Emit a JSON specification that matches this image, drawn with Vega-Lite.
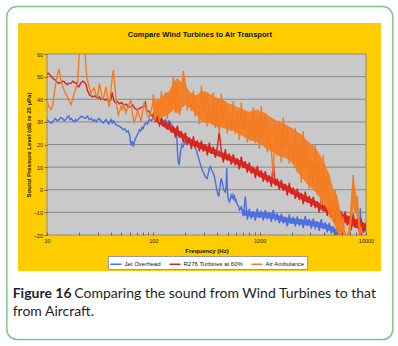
{
"$schema":"https://vega.github.io/schema/vega-lite/v6.json",
"autosize":{"type":"none"},
"width":319,"height":181,
"padding":{"left":47,"top":54,"right":32,"bottom":111},
"background":"#ffffff",
"title":{"text":"Compare Wind Turbines to Air Transport","frame":"bounds","anchor":"middle","offset":-39.25,"baseline":"alphabetic","font":"Liberation Sans","fontSize":7.5,"fontWeight":"bold","color":"#111111"},
"config":{"view":{"stroke":null},
"axis":{"labelFont":"Liberation Sans","labelFontSize":5.5,"labelColor":"#222222","titleFont":"Liberation Sans","titleFontSize":6,"titleFontWeight":"bold","titleColor":"#111111","tickColor":"#666666","domain":false,"grid":false,"zindex":1,"labelFlush":false,"labelOverlap":false}},
"datasets":{
"jet":[{"f":10,"v":31},{"f":10.5,"v":30},{"f":11,"v":29.5},{"f":11.5,"v":30.5},{"f":12,"v":31.5},{"f":12.5,"v":30.5},{"f":13,"v":31},{"f":13.5,"v":32},{"f":14,"v":31.5},{"f":14.5,"v":30.5},{"f":15,"v":31},{"f":15.5,"v":32},{"f":16,"v":32.5},{"f":16.5,"v":31},{"f":17,"v":31.5},{"f":17.5,"v":30.5},{"f":18,"v":30},{"f":18.5,"v":31},{"f":19,"v":30.5},{"f":20,"v":31.5},{"f":21,"v":32.5},{"f":22,"v":32},{"f":23,"v":31.5},{"f":24,"v":32.5},{"f":25,"v":31},{"f":26,"v":31.5},{"f":27,"v":30.5},{"f":28,"v":31},{"f":29,"v":30},{"f":30,"v":31},{"f":31,"v":31.5},{"f":32,"v":30.5},{"f":33,"v":30},{"f":34,"v":29.5},{"f":35,"v":30.5},{"f":36,"v":31},{"f":37,"v":30},{"f":38,"v":29},{"f":39,"v":30},{"f":40,"v":31},{"f":41,"v":29.5},{"f":42,"v":30.5},{"f":44,"v":29},{"f":46,"v":28.5},{"f":48,"v":28},{"f":50,"v":27.5},{"f":52,"v":26.5},{"f":54,"v":27},{"f":56,"v":25.5},{"f":58,"v":26},{"f":60,"v":24},{"f":61,"v":21},{"f":62,"v":19.5},{"f":63,"v":21.5},{"f":64,"v":20.5},{"f":65,"v":19},{"f":66,"v":21},{"f":68,"v":22.5},{"f":70,"v":24},{"f":72,"v":25},{"f":74,"v":26.5},{"f":76,"v":26},{"f":78,"v":27.5},{"f":80,"v":27},{"f":82,"v":28.5},{"f":85,"v":29.5},{"f":88,"v":29},{"f":90,"v":30.5},{"f":93,"v":31},{"f":96,"v":30.5},{"f":100,"v":32},
{"f":105,"v":31},{"f":110,"v":32.5},{"f":115,"v":30.5},{"f":120,"v":31.5},{"f":125,"v":30},{"f":130,"v":31},{"f":136,"v":29.5},{"f":141,"v":30.5},{"f":147,"v":29},{"f":152,"v":28},{"f":157,"v":27},{"f":162,"v":26.5},{"f":166,"v":24},{"f":169,"v":16},{"f":172,"v":12},{"f":175,"v":11},{"f":178,"v":14.5},{"f":182,"v":18},{"f":186,"v":20},{"f":190,"v":19},{"f":195,"v":20.5},{"f":200,"v":21.5},{"f":207,"v":20},{"f":214,"v":21.5},{"f":222,"v":20.5},{"f":230,"v":21},{"f":238,"v":20},{"f":246,"v":19},{"f":254,"v":17.5},{"f":262,"v":15},{"f":270,"v":13},{"f":280,"v":10.5},{"f":290,"v":8.5},{"f":300,"v":7},{"f":310,"v":5.5},{"f":320,"v":5},{"f":328,"v":7},{"f":336,"v":9.5},{"f":345,"v":10.2},{"f":355,"v":8.5},{"f":365,"v":7.4},{"f":375,"v":6},{"f":385,"v":3},{"f":395,"v":0},{"f":405,"v":-2},{"f":412,"v":-3},{"f":420,"v":0},{"f":428,"v":3},{"f":436,"v":5},{"f":444,"v":3.5},{"f":452,"v":1.5},{"f":460,"v":0},{"f":468,"v":-0.5},{"f":476,"v":-1},{"f":484,"v":2},{"f":490,"v":9.6},{"f":496,"v":1},{"f":502,"v":-3},{"f":510,"v":-4.5},{"f":520,"v":-5.3},{"f":530,"v":-4},{"f":540,"v":-2.5},{"f":550,"v":-3.5},{"f":560,"v":-2.3},{"f":570,"v":-4},{"f":580,"v":-3},{"f":590,"v":-5},{"f":600,"v":-4.5},{"f":615,"v":-6.5},{"f":630,"v":-7},{"f":645,"v":-9},{"f":660,"v":-8.5},
{"f":672,"v":-7.3},{"f":702,"v":-11.7},{"f":733,"v":-3},{"f":765,"v":-13.2},{"f":799,"v":-8.5},{"f":834,"v":-12.7},{"f":871,"v":-9.5},{"f":910,"v":-13.6},{"f":950,"v":-8.3},{"f":992,"v":-12.4},{"f":1036,"v":-9.2},{"f":1081,"v":-13.5},{"f":1129,"v":-9},{"f":1179,"v":-13.1},{"f":1232,"v":-10},{"f":1286,"v":-14.2},{"f":1343,"v":-8.9},{"f":1402,"v":-13.2},{"f":1464,"v":-10.4},{"f":1529,"v":-14.8},{"f":1597,"v":-10.7},{"f":1667,"v":-14.9},{"f":1741,"v":-12},{"f":1818,"v":-16.2},{"f":1899,"v":-10.9},{"f":1983,"v":-15.1},{"f":2070,"v":-12},{"f":2162,"v":-16.2},{"f":2258,"v":-11.8},{"f":2357,"v":-15.9},{"f":2462,"v":-12.9},{"f":2570,"v":-17},{"f":2684,"v":-11.7},{"f":2803,"v":-16},{"f":2927,"v":-12.9},{"f":3057,"v":-17.2},{"f":3192,"v":-12.8},{"f":3333,"v":-16.9},{"f":3480,"v":-14},{"f":3634,"v":-18.2},{"f":3795,"v":-13},{"f":3963,"v":-17.4},{"f":4138,"v":-14.4},{"f":4321,"v":-18.8},{"f":4512,"v":-14.6},{"f":4712,"v":-18.9},{"f":4920,"v":-16.2},{"f":5138,"v":-20.9},{"f":5365,"v":-16.8},{"f":5603,"v":-22.4},{"f":5851,"v":-22},{"f":6109,"v":-25},{"f":7000,"v":-26},{"f":8700,"v":-25},{"f":8850,"v":-8},{"f":9000,"v":-24},{"f":10000,"v":-27}],
"jetBand":[{"f":680,"lo":-11,"hi":-8.6},{"f":799,"lo":-11.9,"hi":-9.5},{"f":950,"lo":-12.2,"hi":-9.8},{"f":1129,"lo":-12.4,"hi":-10},{"f":1343,"lo":-12.8,"hi":-10.4},{"f":1597,"lo":-14.1,"hi":-11.7},{"f":1899,"lo":-14.8,"hi":-12.4},{"f":2258,"lo":-15.2,"hi":-12.8},{"f":2684,"lo":-15.6,"hi":-13.2},{"f":3192,"lo":-16.2,"hi":-13.8},{"f":3795,"lo":-16.9,"hi":-14.5},{"f":4512,"lo":-18,"hi":-15.6},{"f":5138,"lo":-19.4,"hi":-17},{"f":5500,"lo":-21,"hi":-19}],
"turb":[{"f":10,"v":51},{"f":10.3,"v":51.5},{"f":10.6,"v":51},{"f":11,"v":50},{"f":11.5,"v":49},{"f":12,"v":48.5},{"f":12.5,"v":47.5},{"f":13,"v":47},{"f":13.5,"v":47.5},{"f":14,"v":48},{"f":14.5,"v":47.8},{"f":15,"v":47},{"f":15.5,"v":46.5},{"f":16,"v":47},{"f":16.8,"v":47},{"f":17.5,"v":48},{"f":18,"v":47.5},{"f":18.7,"v":47.3},{"f":19.3,"v":46},{"f":20,"v":45.5},{"f":20.7,"v":47},{"f":21.6,"v":48},{"f":22.5,"v":47.5},{"f":23.3,"v":46.5},{"f":24,"v":44},{"f":25,"v":42},{"f":26,"v":41.5},{"f":27,"v":41},{"f":28,"v":41.5},{"f":29,"v":41},{"f":30,"v":40.5},{"f":31,"v":41},{"f":32,"v":40},{"f":33.5,"v":40.5},{"f":34.6,"v":39.7},{"f":36,"v":40},{"f":37,"v":39.5},{"f":38.5,"v":39},{"f":40,"v":40},{"f":41,"v":43},{"f":42,"v":40.5},{"f":43,"v":39},{"f":44.5,"v":38.3},{"f":46,"v":39},{"f":48,"v":38},{"f":50,"v":38.5},{"f":53,"v":37.5},{"f":56,"v":37.8},{"f":58,"v":36.5},{"f":61.5,"v":36.7},{"f":64,"v":37.5},{"f":67,"v":36},{"f":70.6,"v":35.2},{"f":74,"v":36},{"f":78,"v":36.5},{"f":82,"v":36.7},{"f":84,"v":39},{"f":86,"v":35.5},{"f":88,"v":35},{"f":91.5,"v":34.5},{"f":95,"v":33},{"f":98,"v":32.5},
{"f":100,"v":33.5},{"f":104,"v":30.3},{"f":109,"v":31.9},{"f":114,"v":28.5},{"f":119,"v":31.5},{"f":124,"v":28.3},{"f":130,"v":29.8},{"f":135,"v":26.6},{"f":141,"v":30.1},{"f":148,"v":25.1},{"f":154,"v":28},{"f":161,"v":23},{"f":168,"v":28.3},{"f":176,"v":23.1},{"f":183,"v":26},{"f":191,"v":20.9},{"f":200,"v":25.2},{"f":209,"v":20.1},{"f":218,"v":23},{"f":228,"v":18},{"f":238,"v":23.6},{"f":248,"v":18.7},{"f":259,"v":21.8},{"f":271,"v":17},{"f":283,"v":21.7},{"f":295,"v":16.9},{"f":308,"v":20.1},{"f":322,"v":15.2},{"f":336,"v":20.8},{"f":351,"v":15.9},{"f":366,"v":19},{"f":383,"v":14.2},{"f":400,"v":18.8},{"f":417,"v":25.5},{"f":436,"v":17},{"f":455,"v":12.1},{"f":475,"v":17.8},{"f":496,"v":12.9},{"f":518,"v":16},{"f":541,"v":11.1},{"f":565,"v":15.7},{"f":590,"v":10.8},{"f":616,"v":13.9},{"f":643,"v":9},{"f":672,"v":14.6},{"f":702,"v":9.6},{"f":733,"v":12.6},{"f":765,"v":7.6},{"f":799,"v":12.1},{"f":834,"v":7.1},{"f":871,"v":10.1},{"f":910,"v":5.1},{"f":950,"v":10.6},{"f":992,"v":5.6},{"f":1036,"v":8.6},{"f":1081,"v":3.6},{"f":1129,"v":8.2},{"f":1179,"v":3.3},{"f":1232,"v":6.3},{"f":1286,"v":1.4},{"f":1343,"v":12},{"f":1402,"v":1.9},{"f":1464,"v":4.9},{"f":1529,"v":-0.1},{"f":1597,"v":4.4},{"f":1667,"v":-0.5},{"f":1741,"v":2.6},{"f":1818,"v":-2.5},{"f":1899,"v":3},{"f":1983,"v":-2},{"f":2070,"v":1},{"f":2162,"v":-4},{"f":2258,"v":0.5},{"f":2357,"v":-4.5},{"f":2462,"v":-1.5},{"f":2570,"v":-6.4},{"f":2684,"v":-0.8},{"f":2803,"v":-5.7},{"f":2927,"v":-2.7},{"f":3057,"v":-7.6},{"f":3192,"v":-3.1},{"f":3333,"v":-8.1},{"f":3480,"v":-5.1},{"f":3634,"v":-10.1},{"f":3795,"v":-4.6},{"f":3963,"v":-9.5},{"f":4138,"v":-6.5},{"f":4321,"v":-11.5},{"f":4512,"v":-6.2},{"f":4712,"v":-12.5},{"f":4920,"v":-8.4},{"f":5138,"v":-14.7},{"f":5365,"v":-7.3},{"f":5603,"v":-13.6},{"f":5851,"v":-9.4},{"f":6109,"v":-15.6},{"f":6380,"v":-9.6},{"f":6662,"v":-15.8},{"f":6957,"v":-11.6},{"f":7264,"v":-17.9},{"f":7586,"v":-10.5},{"f":7921,"v":-16.8},{"f":8272,"v":-12.6},{"f":8637,"v":-18.8},{"f":9019,"v":-12.8},{"f":9418,"v":-19},{"f":9835,"v":-14.8},{"f":10000,"v":-18}],
"turbBand":[{"f":104,"lo":30.2,"hi":32.8},{"f":124,"lo":27.9,"hi":30.5},{"f":154,"lo":25.2,"hi":27.8},{"f":191,"lo":22.1,"hi":24.7},{"f":238,"lo":19.3,"hi":21.9},{"f":295,"lo":17.6,"hi":20.2},{"f":366,"lo":15.7,"hi":18.3},{"f":455,"lo":13.8,"hi":16.4},{"f":565,"lo":11.9,"hi":14.5},{"f":702,"lo":9.8,"hi":12.4},{"f":871,"lo":7.3,"hi":9.9},{"f":1081,"lo":4.8,"hi":7.4},{"f":1343,"lo":2.6,"hi":5.2},{"f":1667,"lo":0.2,"hi":2.8},{"f":2070,"lo":-2.3,"hi":0.3},{"f":2570,"lo":-4.7,"hi":-2.1},{"f":3192,"lo":-6.9,"hi":-4.3},{"f":3963,"lo":-9.3,"hi":-6.7},{"f":4920,"lo":-11.9,"hi":-8.9},{"f":6109,"lo":-14.2,"hi":-10.6},{"f":7586,"lo":-16.2,"hi":-12.6},{"f":9418,"lo":-18.4,"hi":-14.4},{"f":10000,"lo":-18.5,"hi":-15.5}],
"amb":[{"f":10,"v":38.5},{"f":10.4,"v":37},{"f":10.9,"v":35.5},{"f":11.3,"v":37},{"f":11.7,"v":42.5},{"f":12.2,"v":48},{"f":12.6,"v":51.5},{"f":13,"v":53},{"f":13.5,"v":48.5},{"f":14,"v":46},{"f":14.5,"v":44},{"f":15,"v":42.5},{"f":15.6,"v":41},{"f":16.2,"v":39},{"f":16.8,"v":37.5},{"f":17.4,"v":40},{"f":18,"v":42.5},{"f":18.7,"v":45},{"f":19.4,"v":47},{"f":20,"v":58},{"f":20.5,"v":66},{"f":21.2,"v":72},{"f":21.8,"v":68},{"f":22.4,"v":64},{"f":22.9,"v":60},{"f":23.3,"v":53},{"f":24,"v":48.5},{"f":25,"v":45},{"f":25.9,"v":42.5},{"f":26.8,"v":44},{"f":27.8,"v":45},{"f":28.8,"v":42},{"f":29.9,"v":41},{"f":31,"v":47},{"f":32,"v":44},{"f":33.3,"v":39.5},{"f":34.5,"v":42},{"f":35.9,"v":45.5},{"f":37,"v":41},{"f":38.5,"v":36.5},{"f":39.5,"v":42},{"f":40.5,"v":47},{"f":41.4,"v":51},{"f":42.2,"v":53},{"f":43.6,"v":45},{"f":45,"v":38},{"f":46.8,"v":33},{"f":48.5,"v":35},{"f":50,"v":37},{"f":51.5,"v":35.5},{"f":53,"v":38},{"f":55,"v":34},{"f":57.4,"v":36},{"f":59.5,"v":38},{"f":61.6,"v":40},{"f":63.5,"v":34},{"f":66,"v":29.5},{"f":68.5,"v":32},{"f":71,"v":35},{"f":73.5,"v":33},{"f":76.6,"v":30},{"f":79,"v":34.5},{"f":82,"v":38.5},{"f":85,"v":36},{"f":88,"v":33},{"f":91,"v":31.5},{"f":95,"v":35},{"f":98,"v":37},
{"f":100,"v":42.3},{"f":104,"v":30.4},{"f":109,"v":39},{"f":114,"v":30},{"f":119,"v":43.5},{"f":124,"v":33.9},{"f":130,"v":42.8},{"f":135,"v":31.3},{"f":141,"v":40},{"f":148,"v":34.4},{"f":154,"v":50.1},{"f":161,"v":33.9},{"f":168,"v":46.8},{"f":176,"v":33},{"f":183,"v":36.5},{"f":191,"v":52.5},{"f":200,"v":46.9},{"f":209,"v":35.1},{"f":218,"v":41.2},{"f":228,"v":34.8},{"f":238,"v":43.9},{"f":248,"v":32.3},{"f":259,"v":40.9},{"f":271,"v":29},{"f":283,"v":46},{"f":295,"v":33},{"f":308,"v":43.2},{"f":322,"v":27.9},{"f":336,"v":37.8},{"f":351,"v":29.2},{"f":366,"v":43.1},{"f":383,"v":27.3},{"f":400,"v":38.5},{"f":417,"v":25},{"f":436,"v":42.5},{"f":455,"v":30.1},{"f":475,"v":39},{"f":496,"v":24.9},{"f":518,"v":33.9},{"f":541,"v":26},{"f":565,"v":39.2},{"f":590,"v":24.7},{"f":616,"v":34.9},{"f":643,"v":22},{"f":672,"v":38.5},{"f":702,"v":26.1},{"f":733,"v":35},{"f":765,"v":20.9},{"f":799,"v":30},{"f":834,"v":21.7},{"f":871,"v":36.6},{"f":910,"v":20.5},{"f":950,"v":33.1},{"f":992,"v":18},{"f":1036,"v":37},{"f":1081,"v":23},{"f":1129,"v":33.4},{"f":1179,"v":16.5},{"f":1232,"v":27},{"f":1286,"v":17.5},{"f":1343,"v":6.5},{"f":1402,"v":29.5},{"f":1464,"v":15},{"f":1529,"v":30.5},{"f":1597,"v":12},{"f":1667,"v":32},{"f":1741,"v":17.5},{"f":1818,"v":28},{"f":1899,"v":11.5},{"f":1983,"v":22},{"f":2070,"v":11.7},{"f":2162,"v":27.4},{"f":2258,"v":7.8},{"f":2357,"v":21.6},{"f":2462,"v":3},{"f":2570,"v":26},{"f":2684,"v":8.2},{"f":2803,"v":20.4},{"f":2927,"v":0.2},{"f":3057,"v":13.2},{"f":3192,"v":1.2},{"f":3333,"v":19.8},{"f":3480,"v":-2.1},{"f":3634,"v":12.5},{"f":3795,"v":-7},{"f":3963,"v":15.5},{"f":4138,"v":-3},{"f":4321,"v":8.1},{"f":4512,"v":-11.9},{"f":4712,"v":-1.8},{"f":4920,"v":-14},{"f":5138,"v":0},{"f":5365,"v":-18.9},{"f":5603,"v":-8.8},{"f":5851,"v":-25},{"f":6109,"v":-12},{"f":6380,"v":-23.7},{"f":6662,"v":-19.5},{"f":6957,"v":-24.4},{"f":7264,"v":-7.2},{"f":7586,"v":6.5},{"f":7921,"v":-9.8},{"f":8272,"v":-2.7},{"f":8637,"v":-18.9},{"f":9019,"v":-17.3},{"f":9418,"v":-27},{"f":9835,"v":-24},{"f":10000,"v":-26}],
"ambBand":[{"f":100,"lo":30.5,"hi":40.5},{"f":109,"lo":32.5,"hi":39.5},{"f":119,"lo":32,"hi":41},{"f":130,"lo":32.5,"hi":42.5},{"f":141,"lo":33.5,"hi":43.5},{"f":154,"lo":35.5,"hi":47.5},{"f":168,"lo":33.5,"hi":49.5},{"f":183,"lo":36.5,"hi":47.5},{"f":191,"lo":36.5,"hi":50},{"f":200,"lo":37.5,"hi":46.5},{"f":218,"lo":36.5,"hi":43.5},{"f":238,"lo":34.5,"hi":42},{"f":259,"lo":32.5,"hi":42},{"f":283,"lo":30.5,"hi":43.5},{"f":308,"lo":29.5,"hi":43.5},{"f":336,"lo":29.5,"hi":42.5},{"f":366,"lo":28.5,"hi":41.5},{"f":400,"lo":27.5,"hi":40.5},{"f":436,"lo":27.5,"hi":40},{"f":475,"lo":27,"hi":39},{"f":518,"lo":26.5,"hi":38},{"f":565,"lo":26,"hi":37.5},{"f":616,"lo":25,"hi":36.5},{"f":672,"lo":24,"hi":36},{"f":733,"lo":23,"hi":35},{"f":799,"lo":22,"hi":34.5},{"f":871,"lo":21.5,"hi":35},{"f":950,"lo":21,"hi":35.5},{"f":1036,"lo":20,"hi":34.5},{"f":1129,"lo":18.5,"hi":34},{"f":1232,"lo":17.5,"hi":32.5},{"f":1343,"lo":16.5,"hi":31.5},{"f":1464,"lo":15.5,"hi":30.5},{"f":1597,"lo":14.5,"hi":29.5},{"f":1741,"lo":14,"hi":29},{"f":1899,"lo":13,"hi":28},{"f":2070,"lo":11,"hi":27},{"f":2258,"lo":8,"hi":25.5},{"f":2462,"lo":5.5,"hi":24.5},{"f":2684,"lo":3.5,"hi":22.5},{"f":2927,"lo":1.5,"hi":21},{"f":3192,"lo":0,"hi":19.5},{"f":3480,"lo":-2,"hi":17.5},{"f":3795,"lo":-4.5,"hi":14.5},{"f":4138,"lo":-7.5,"hi":11},{"f":4512,"lo":-10.5,"hi":7},{"f":4920,"lo":-14.5,"hi":0.5},{"f":5365,"lo":-18.5,"hi":-2.5},{"f":5851,"lo":-22.5,"hi":-10.5},{"f":6380,"lo":-24.5,"hi":-18.5},{"f":6662,"lo":-25.5,"hi":-20.5},{"f":6957,"lo":-22.5,"hi":-14.5},{"f":7264,"lo":-15.5,"hi":-2.5},{"f":7586,"lo":-7.5,"hi":4},{"f":7921,"lo":-9.5,"hi":0.5},{"f":8272,"lo":-12.5,"hi":-4.5},{"f":8637,"lo":-17.5,"hi":-11.5},{"f":9019,"lo":-21.5,"hi":-17.5},{"f":9418,"lo":-24.5,"hi":-22.5},{"f":10000,"lo":-26,"hi":-26}],
"grid":[{"g":-10},{"g":0},{"g":10},{"g":20},{"g":30},{"g":40},{"g":50}]
},
"layer":[
{"data":{"values":[{}]},"mark":{"type":"rect","fill":"#ffffff","stroke":"#7cc88a","strokeWidth":1.5,"cornerRadius":10},
 "encoding":{"x":{"datum":4.19,"type":"quantitative","scale":{"type":"log","domain":[10,10000]}},"x2":{"datum":17870},"y":{"datum":81,"type":"quantitative","scale":{"domain":[-20,60],"nice":false,"zero":false}},"y2":{"datum":-66.2}}},
{"data":{"values":[{}]},"mark":{"type":"rect","fill":"#ffcc00"},
 "encoding":{"x":{"datum":5.34,"type":"quantitative"},"x2":{"datum":13840},"y":{"datum":73.7,"type":"quantitative"},"y2":{"datum":-35.9}}},
{"data":{"values":[{}]},"mark":{"type":"rect","fill":"#c9c9c9","stroke":"#8a8a8a","strokeWidth":1},
 "encoding":{"x":{"datum":10,"type":"quantitative"},"x2":{"datum":10000},"y":{"datum":-20,"type":"quantitative"},"y2":{"datum":60}}},
{"data":{"name":"grid"},"mark":{"type":"rule","color":"#8a8a8a","strokeWidth":1},
 "encoding":{"y":{"field":"g","type":"quantitative"}}},
{"data":{"name":"jetBand"},"mark":{"type":"area","clip":true,"color":"#4a6ee0","opacity":0.9},
 "encoding":{"x":{"field":"f","type":"quantitative"},"y":{"field":"hi","type":"quantitative"},"y2":{"field":"lo"}}},
{"data":{"name":"jet"},"mark":{"type":"line","clip":true,"strokeWidth":1.4},
 "encoding":{
  "x":{"field":"f","type":"quantitative","scale":{"type":"log","domain":[10,10000]},
   "axis":{"title":"Frequency (Hz)","zindex":1,"values":[10,20,30,40,50,60,70,80,90,100,200,300,400,500,600,700,800,900,1000,2000,3000,4000,5000,6000,7000,8000,9000,10000],"tickCount":40,"labelExpr":"datum.value==10||datum.value==100||datum.value==1000||datum.value==10000 ? datum.value+'' : ''","tickSize":-3,"labelPadding":6,"titlePadding":4,"labelOverlap":false,"labelFlush":false}},
  "y":{"field":"v","type":"quantitative","scale":{"domain":[-20,60],"nice":false,"zero":false},
   "axis":{"title":"Sound Pressure Level (dB re 20 µPa)","zindex":1,"values":[-20,-10,0,10,20,30,40,50,60],"tickCount":20,"tickSize":3,"labelPadding":1.5,"titlePadding":2,"labelOverlap":false,"labelBound":false}},
  "color":{"datum":"Jet Overhead","type":"nominal","scale":{"domain":["Jet Overhead","R276 Turbines at 60%","Air Ambulance"],"range":["#4a6ee0","#d8231c","#f47b20"]},
   "legend":{"orient":"none","legendX":61,"legendY":202,"direction":"horizontal","title":null,"symbolType":"stroke","symbolSize":120,"symbolStrokeWidth":1.5,"labelFont":"Liberation Sans","labelFontSize":6,"labelColor":"#111111","labelOffset":2,"columnPadding":5,"padding":1.5,"fillColor":"#ffffff","strokeColor":"#999999"}}}},
{"data":{"name":"turbBand"},"mark":{"type":"area","clip":true,"color":"#d8231c","opacity":0.9},
 "encoding":{"x":{"field":"f","type":"quantitative"},"y":{"field":"hi","type":"quantitative"},"y2":{"field":"lo"}}},
{"data":{"name":"turb"},"mark":{"type":"line","clip":true,"strokeWidth":1.4},
 "encoding":{"x":{"field":"f","type":"quantitative"},"y":{"field":"v","type":"quantitative"},"color":{"datum":"R276 Turbines at 60%","type":"nominal"}}},
{"data":{"name":"ambBand"},"mark":{"type":"area","clip":true,"color":"#f47b20","opacity":0.9},
 "encoding":{"x":{"field":"f","type":"quantitative"},"y":{"field":"hi","type":"quantitative"},"y2":{"field":"lo"}}},
{"data":{"name":"amb"},"mark":{"type":"line","clip":true,"strokeWidth":1.4},
 "encoding":{"x":{"field":"f","type":"quantitative"},"y":{"field":"v","type":"quantitative"},"color":{"datum":"Air Ambulance","type":"nominal"}}},
{"data":{"values":[{}]},"mark":{"type":"text","text":"Figure 16","align":"left","baseline":"alphabetic","font":"Lato","fontSize":14,"fontWeight":"bold","color":"#1e1e2a"},
 "encoding":{"x":{"datum":4.757,"type":"quantitative"},"y":{"datum":-47.85,"type":"quantitative"}}},
{"data":{"values":[{}]},"mark":{"type":"text","text":"Comparing the sound from Wind Turbines to that","align":"left","baseline":"alphabetic","font":"Lato","fontSize":14,"color":"#1e1e2a"},
 "encoding":{"x":{"datum":18.06,"type":"quantitative"},"y":{"datum":-47.85,"type":"quantitative"}}},
{"data":{"values":[{}]},"mark":{"type":"text","text":"from Aircraft.","align":"left","baseline":"alphabetic","font":"Lato","fontSize":14,"color":"#1e1e2a"},
 "encoding":{"x":{"datum":4.757,"type":"quantitative"},"y":{"datum":-55.8,"type":"quantitative"}}}
]
}
